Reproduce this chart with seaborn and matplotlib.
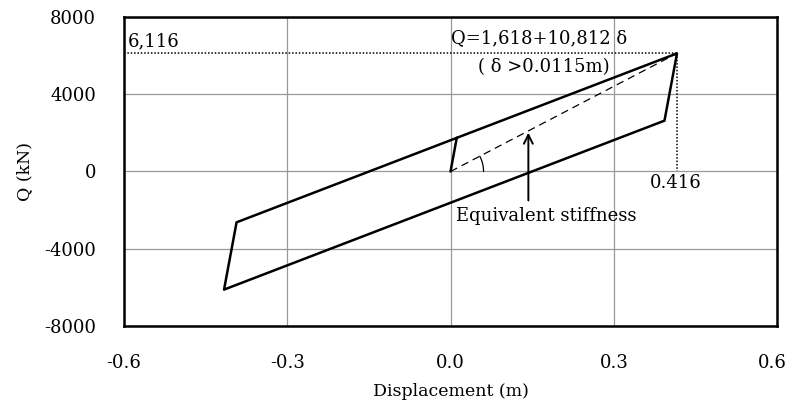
import matplotlib
matplotlib.use("Agg")
import matplotlib.pyplot as plt
import seaborn as sns
import pandas as pd
import numpy as np

# Hysteresis loop vertices (displacement m, force kN)
loop_x = [0.0, 0.0115, 0.416, 0.393, -0.416, -0.393, 0.0115]
loop_q = [0.0, 1742, 6116, 2632, -6116, -2632, 1742]

# Equivalent stiffness secant
secant_x = [0.0, 0.416]
secant_q = [0.0, 6116]

peak_disp = 0.416
peak_force = 6116

x_ticks = [-0.6, -0.3, 0.0, 0.3, 0.6]
y_ticks = [-8000, -4000, 0, 4000, 8000]

sns.set_theme(style="white")
plt.rcParams['font.family'] = ['DejaVu Serif']
plt.rcParams['mathtext.fontset'] = 'dejavuserif'
plt.rcParams['text.color'] = 'black'
plt.rcParams['axes.labelcolor'] = 'black'
plt.rcParams['xtick.color'] = 'black'
plt.rcParams['ytick.color'] = 'black'

fig, ax = plt.subplots(figsize=(7.89, 4.0), dpi=100)
fig.subplots_adjust(left=0.157, right=0.985, bottom=0.185, top=0.9575)

df_loop = pd.DataFrame({"x": loop_x, "q": loop_q})
sns.lineplot(data=df_loop, x="x", y="q", sort=False, estimator=None,
             color="black", lw=1.8, ax=ax)
df_sec = pd.DataFrame({"x": secant_x, "q": secant_q})
sns.lineplot(data=df_sec, x="x", y="q", sort=False, estimator=None,
             color="black", lw=0.9, ax=ax, linestyle=(0, (6, 4)))

# dotted guide lines
ax.plot([-0.6, peak_disp], [peak_force, peak_force], color="black", lw=1.1, ls=(0, (1, 1.2)))
ax.plot([peak_disp, peak_disp], [peak_force, 0], color="black", lw=1.1, ls=(0, (1, 1.2)))

# angle arc
ang = np.arctan2(118.0, 226.7)
t = np.linspace(0, ang, 30)
r = 33.0
ax.plot(r * np.cos(t) / 544.0, r * np.sin(t) / 0.0193, color="black", lw=0.9)

# arrow
ax.annotate("", xy=(0.143, 2010), xytext=(0.143, -1500),
            arrowprops=dict(arrowstyle="->", color="black", lw=1.4,
                            mutation_scale=16, shrinkA=0, shrinkB=0))

fs = 13
ax.text(0.010, -2300, "Equivalent stiffness", fontsize=fs, va="center", ha="left")
ax.text(0.0, 6900, "Q=1,618+10,812 δ", fontsize=fs, va="center", ha="left")
ax.text(0.051, 5400, "( δ >0.0115m)", fontsize=fs, va="center", ha="left")
ax.text(-0.593, 6750, "6,116", fontsize=fs, va="center", ha="left")
ax.text(0.367, -600, "0.416", fontsize=fs, va="center", ha="left")

ax.set_xlim(-0.6, 0.6)
ax.set_ylim(-8000, 8000)
ax.set_xticks(x_ticks)
ax.set_xticklabels([f"{v:.1f}" for v in x_ticks])
ax.set_yticks(y_ticks)
ax.set_yticklabels([str(v) for v in y_ticks])
ax.grid(True, color="#999999", lw=0.9)
ax.tick_params(axis="both", labelsize=13, length=0)
ax.tick_params(axis="y", pad=20)
ax.tick_params(axis="x", pad=20)
ax.get_xticklabels()[-1].set_horizontalalignment("right")
for lab in ax.get_xticklabels()[-1:]:
    lab.set_ha("center")
ax.set_xlabel("Displacement (m)", fontsize=12.5, labelpad=8)
ax.set_ylabel("Q (kN)", fontsize=12.5, labelpad=8)
for s in ax.spines.values():
    s.set_visible(True)
    s.set_color("black")
    s.set_linewidth(1.8)

fig.canvas.draw()
last = ax.get_xticklabels()[-1]
bb = last.get_window_extent()
if bb.x1 > fig.bbox.width - 1:
    from matplotlib.transforms import offset_copy
    last.set_transform(offset_copy(last.get_transform(), fig=fig,
                                   x=-(bb.x1 - fig.bbox.width + 2), units="dots"))

fig.savefig("out.png", dpi=100)
